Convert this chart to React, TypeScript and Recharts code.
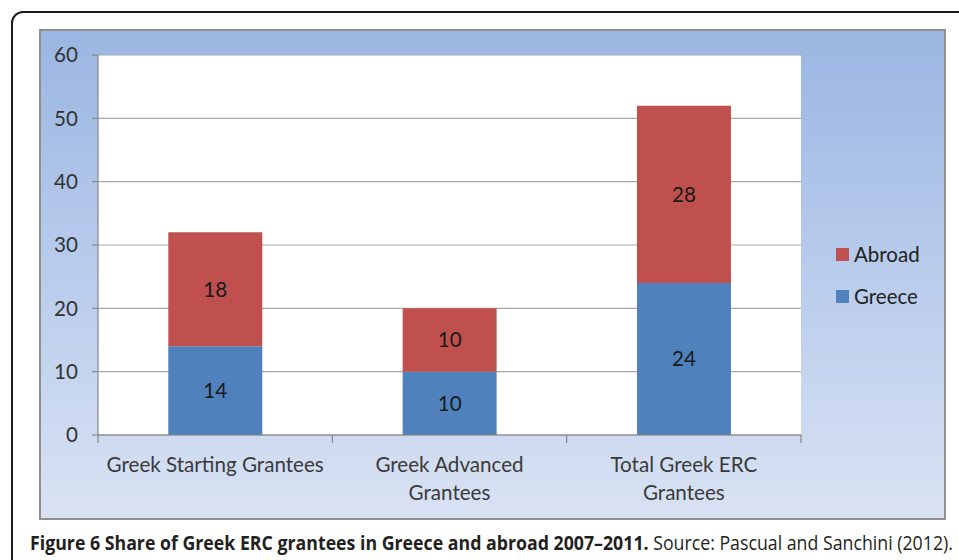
import React from 'react';
import { BarChart, Bar, XAxis, YAxis, CartesianGrid, LabelList, Legend } from 'recharts';

const categories = ['Greek Starting Grantees', 'Greek Advanced\nGrantees', 'Total Greek ERC\nGrantees'];
const greeceValues = [14, 10, 24];
const abroadValues = [18, 10, 28];
const yTicks = [0, 10, 20, 30, 40, 50, 60];
const legendOrder = ['Abroad', 'Greece'];

const data = categories.map((c, i) => ({ name: c, Greece: greeceValues[i], Abroad: abroadValues[i] }));

const FONT = 'Lato, "Open Sans", sans-serif';
const BLUE = '#4F81BD';
const RED = '#C0504D';

const XTick = (props: any) => {
  const { x, y, payload, index, visibleTicksCount } = props;
  const half = payload && typeof payload.offset === 'number' ? payload.offset : 0;
  const lines = String(payload.value).split('\n');
  const isLast = index === (visibleTicksCount ?? categories.length) - 1;
  return (
    <g>
      <line x1={x - half} x2={x - half} y1={y} y2={y + 8} stroke="#868686" strokeWidth={1.2} />
      {isLast && <line x1={x + half} x2={x + half} y1={y} y2={y + 8} stroke="#868686" strokeWidth={1.2} />}
      <text x={x} y={y + 37} textAnchor="middle" fontSize={20.6} fill="#3a3a3a" fontFamily={FONT}>
        {lines.map((l, i) => (
          <tspan key={i} x={x} dy={i === 0 ? 0 : 28}>{l}</tspan>
        ))}
      </text>
    </g>
  );
};

const LegendContent = (props: any) => {
  const items = [...(props.payload || [])].sort(
    (a: any, b: any) => legendOrder.indexOf(a.value) - legendOrder.indexOf(b.value)
  );
  return (
    <div style={{ fontFamily: FONT, fontSize: 20.5, color: '#222' }}>
      {items.map((it: any) => (
        <div key={it.value} style={{ display: 'flex', alignItems: 'center', height: 42 }}>
          <span style={{ display: 'inline-block', width: 13, height: 13, background: it.color, marginRight: 5 }} />
          <span>{it.value}</span>
        </div>
      ))}
    </div>
  );
};

export default function App() {
  return (
    <div style={{ position: 'absolute', left: 0, top: 0, width: 959, height: 560, overflow: 'hidden', background: '#fff' }}>
      <div style={{ position: 'absolute', left: 11, top: 11, width: 1000, height: 600, border: '2px solid #1c1c1c', borderRadius: 12, boxSizing: 'border-box' }} />
      <div style={{ position: 'absolute', left: 39, top: 29, width: 907, height: 491, border: '2px solid #8f8f8f', boxSizing: 'border-box', background: 'linear-gradient(180deg, #9AB6E2 0%, #B9CCEC 50%, #D9E2F3 100%)' }} />
      <div style={{ position: 'absolute', left: 0, top: 0 }}>
        <BarChart width={959} height={560} data={data} margin={{ top: 55, right: 158, left: 0, bottom: 65 }} barCategoryGap="30%">
          <CartesianGrid vertical={false} stroke="#a8a8a8" strokeWidth={1.2} fill="#ffffff" />
          <XAxis dataKey="name" height={60} interval={0} tickSize={0} tickMargin={0} tickLine={false} axisLine={{ stroke: '#868686', strokeWidth: 1.2 }} tick={<XTick />} />
          <YAxis width={98} domain={[0, 60]} ticks={yTicks} interval={0} tickSize={6} tickMargin={14} axisLine={{ stroke: '#868686', strokeWidth: 1.2 }} tickLine={{ stroke: '#868686', strokeWidth: 1.2 }} tick={{ fontSize: 20.6, fill: '#333', fontFamily: FONT }} />
          <Legend layout="vertical" align="center" verticalAlign="middle" content={<LegendContent />} wrapperStyle={{ left: 836, top: 233, width: 'auto' }} />
          <Bar dataKey="Greece" stackId="a" fill={BLUE} isAnimationActive={false}>
            <LabelList dataKey="Greece" position="center" fill="#1a1a1a" fontSize={20.6} fontFamily={FONT} />
          </Bar>
          <Bar dataKey="Abroad" stackId="a" fill={RED} isAnimationActive={false}>
            <LabelList dataKey="Abroad" position="center" fill="#1a1a1a" fontSize={20.6} fontFamily={FONT} />
          </Bar>
        </BarChart>
      </div>
      <div style={{ position: 'absolute', left: 30, top: 529, fontFamily: '"Open Sans", sans-serif', fontSize: 19.3, color: '#231f20', whiteSpace: 'nowrap', transform: 'scaleX(0.92)', transformOrigin: 'left top' }}>
        <b>Figure 6 Share of Greek ERC grantees in Greece and abroad 2007–2011.</b> Source: Pascual and Sanchini (2012).
      </div>
    </div>
  );
}
